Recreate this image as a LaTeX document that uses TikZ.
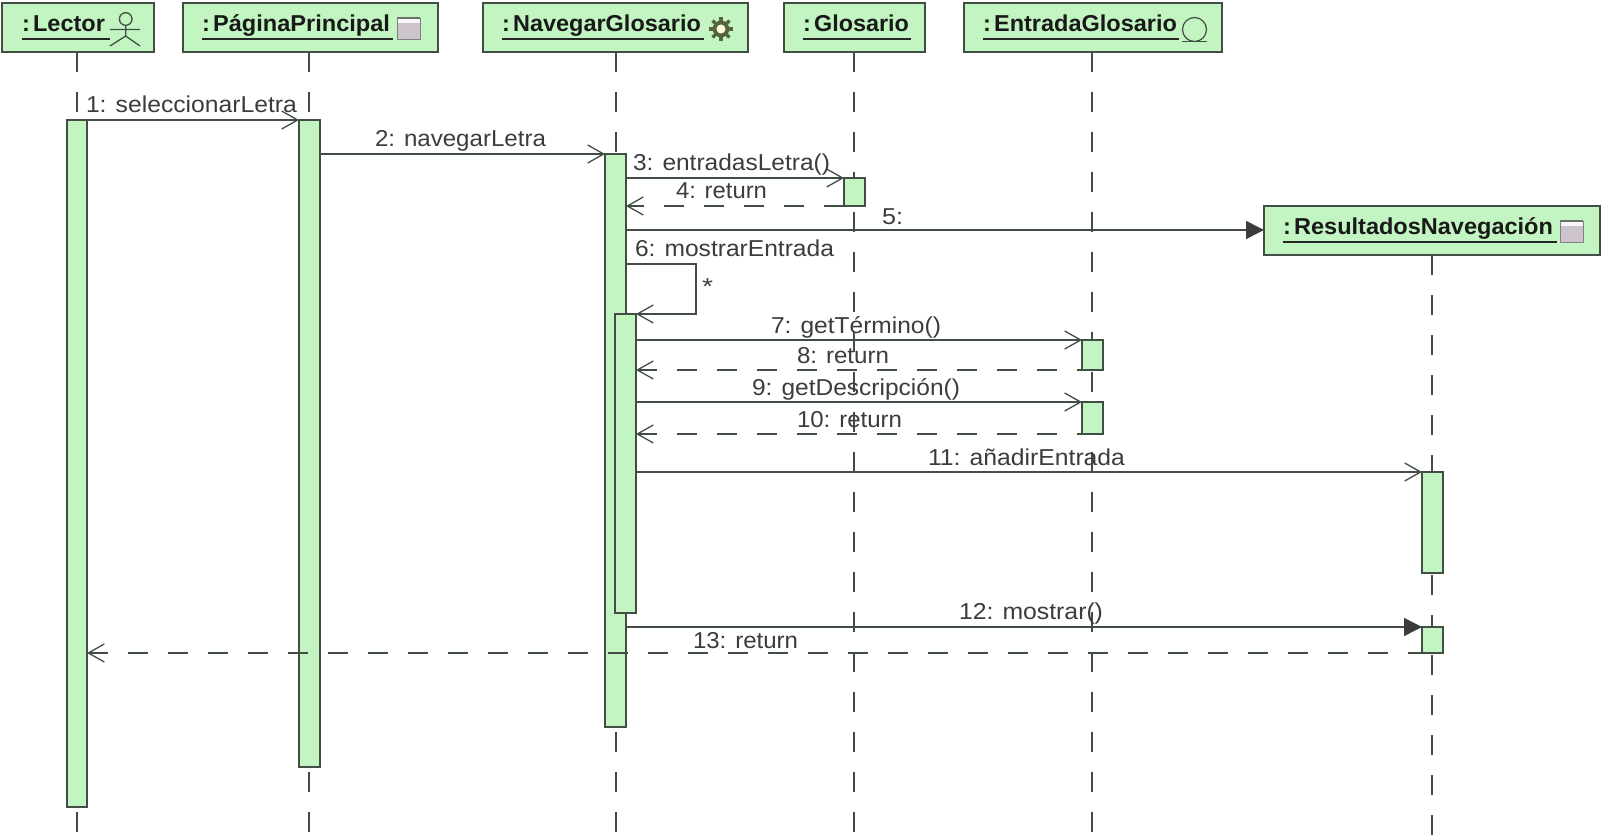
\documentclass[tikz,border=0pt]{standalone}
\usepackage{fontspec}
\usepackage{graphicx}
\setmainfont{Liberation Sans}
\usetikzlibrary{arrows.meta}
\definecolor{actfill}{RGB}{194,245,194}
\definecolor{edge}{RGB}{66,78,68}
\definecolor{ink}{RGB}{60,60,60}
\definecolor{pagegray}{RGB}{205,195,205}
\definecolor{gearc}{RGB}{85,100,60}
\newsavebox\fitbox
\newcommand\fitw[2]{\sbox\fitbox{#2}\pgfmathsetmacro\fitr{#1/\the\wd\fitbox}\scalebox{\fitr}[1]{\usebox\fitbox}}
\newcommand\cs{:\hspace{0.14em}}
\tikzset{
  x=1pt,y=-1pt,
  classbox/.style={draw=edge,fill=actfill,line width=1.4pt,inner sep=0,outer sep=0,anchor=north west},
  activ/.style={draw=edge,fill=actfill,line width=1.4pt,inner sep=0,outer sep=0,anchor=north west},
  lifeline/.style={draw=edge,line width=1.3pt,dash pattern=on 20pt off 20pt},
  msg/.style={draw=edge,line width=1.4pt,-{Straight Barb[length=16pt,width=18pt,line width=1.3pt]}},
  ret/.style={msg,dash pattern=on 20pt off 20pt},
  syncm/.style={draw=edge,line width=1.4pt,-{Triangle[length=18pt,width=18pt,fill=ink,color=ink]}},
  lbl/.style={inner sep=0,outer sep=0,text=ink,font=\fontsize{23}{23}\selectfont,anchor=base west},
  hd/.style={inner sep=0,outer sep=0,text=black!90,font=\fontsize{23}{23}\selectfont\bfseries,anchor=base west},
  ul/.style={draw=black!85,line width=1.5pt},
}
\newcommand\cbox[5]{\node[classbox,minimum width=#4pt-#2pt,minimum height=#5pt-#3pt] (#1) at (#2,#3) {};}
\newcommand\actv[5]{\node[activ,minimum width=#4pt-#2pt,minimum height=#5pt-#3pt] (#1) at (#2,#3) {};}
\newcommand\hdtext[6]{\node[hd] (#1) at (#2,#3) {\fitw{#4}{#6}}; \draw[ul] (#2,#3+7) -- (#5,#3+7);}
\newcommand\pageicon[2]{%
  \fill[pagegray] (#1,#2) rectangle (#1+23,#2+23);
  \fill[white!85!pagegray] (#1,#2) rectangle (#1+23,#2+6);
  \draw[edge!80,line width=1.2pt] (#1,#2+1) -- (#1+23,#2+1);
  \draw[gray,line width=1pt] (#1,#2+1) -- (#1,#2+23) -- (#1+23,#2+23) -- (#1+23,#2+1);
}
\begin{document}
\begin{tikzpicture}
\useasboundingbox (0,0) rectangle (1601,837);
\fill[white] (0,0) rectangle (1601,837);
% heads
\cbox{cL}{2}{3}{154}{52}
\cbox{cP}{183}{3}{438}{52}
\cbox{cN}{483}{3}{748}{52}
\cbox{cG}{784}{3}{925}{52}
\cbox{cE}{964}{3}{1222}{52}
\cbox{cR}{1264}{206}{1600}{255}
% lifeline ends
\coordinate (eL) at (77,837);
\coordinate (eP) at (309,837);
\coordinate (eN) at (616,837);
\coordinate (eG) at (854,837);
\coordinate (eE) at (1092,837);
\coordinate (eR) at (1432,837);
\draw[lifeline] (cL.south -| eL) -- (eL);
\draw[lifeline] (cP.south -| eP) -- (eP);
\draw[lifeline] (cN.south -| eN) -- (eN);
\draw[lifeline] (cG.south -| eG) -- (eG);
\draw[lifeline] (cE.south -| eE) -- (eE);
\draw[lifeline] (cR.south -| eR) -- (eR);
% activations
\actv{aL}{67}{120}{87}{807}
\actv{aP}{299}{120}{320}{767}
\actv{aN}{605}{154}{626}{727}
\actv{aI}{615}{314}{636}{613}
\actv{aG}{844}{178}{865}{206}
\actv{aE}{1082}{340}{1103}{370}
\actv{aF}{1082}{402}{1103}{434}
\actv{aR}{1422}{472}{1443}{573}
\actv{aS}{1422}{627}{1443}{653}
% head texts
\hdtext{tL}{22}{32}{83}{110}{\cs Lector}
\hdtext{tP}{202}{32}{188}{393}{\cs PáginaPrincipal}
\hdtext{tN}{502}{32}{199}{704}{\cs NavegarGlosario}
\hdtext{tG}{803}{32}{106}{911}{\cs Glosario}
\hdtext{tE}{983}{32}{194}{1179}{\cs EntradaGlosario}
\hdtext{tR}{1283}{235}{270}{1557}{\cs ResultadosNavegación}
% icons
\draw[edge,line width=1.3pt] (125.7,19) circle (6.3);
\draw[edge,line width=1.3pt] (125.7,25.5) -- (125.7,36) (110,29.5) -- (140,29.5) (110,46) -- (125.7,36) -- (140,46);
\pageicon{397}{17}
\pageicon{1560}{220}
\foreach \a in {0,45,...,315}{\draw[gearc,line width=3.5pt] (721,29)++(\a:7) -- ++(\a:5);}
\draw[gearc,line width=3.8pt,fill=white!85!yellow] (721,29) circle (6.4);
\draw[edge,line width=1.2pt] (1194.5,29.5) circle (12);
\draw[edge,line width=1.4pt] (1182,41.5) -- (1207,41.5);
% messages
\coordinate (m1) at (0,120);\coordinate (m2) at (0,154);\coordinate (m3) at (0,178);
\coordinate (m4) at (0,206);\coordinate (m5) at (0,230);\coordinate (m7) at (0,340);
\coordinate (m8) at (0,370);\coordinate (m9) at (0,402);\coordinate (m10) at (0,434);
\coordinate (m11) at (0,472);\coordinate (m12) at (0,627);\coordinate (m13) at (0,653);
\coordinate (s1) at (696,264);\coordinate (s2) at (696,314);
\draw[msg] (aL.east |- m1) -- (aP.west |- m1);
\draw[msg] (aP.east |- m2) -- (aN.west |- m2);
\draw[msg] (aN.east |- m3) -- (aG.west |- m3);
\draw[ret] (aG.west |- m4) -- (aN.east |- m4);
\draw[syncm] (aN.east |- m5) -- (cR.west |- m5);
\draw[msg] (aN.east |- s1) -- (s1) -- (s2) -- (aI.east |- s2);
\draw[msg] (aI.east |- m7) -- (aE.west |- m7);
\draw[ret,dash phase=15pt] (aE.west |- m8) -- (aI.east |- m8);
\draw[msg] (aI.east |- m9) -- (aF.west |- m9);
\draw[ret,dash phase=15pt] (aF.west |- m10) -- (aI.east |- m10);
\draw[msg] (aI.east |- m11) -- (aR.west |- m11);
\draw[syncm] (aN.east |- m12) -- (aS.west |- m12);
\draw[ret,dash phase=6pt] (aS.west |- m13) -- (aL.east |- m13);
% labels
\node[lbl] (l1) at (86,113) {\fitw{211}{1: seleccionarLetra}};
\node[lbl] (l2) at (375,147) {\fitw{171}{2: navegarLetra}};
\node[lbl] (l3) at (633,171) {\fitw{197}{3: entradasLetra()}};
\node[lbl] (l4) at (676,199) {\fitw{91}{4: return}};
\node[lbl] (l5) at (882,225) {\fitw{21}{5:}};
\node[lbl] (l6) at (635,257) {\fitw{199}{6: mostrarEntrada}};
\node[lbl] (star) at (702,294) {\fitw{11}{*}};
\node[lbl] (l7) at (771,333) {\fitw{170}{7: getTérmino()}};
\node[lbl] (l8) at (797,363) {\fitw{92}{8: return}};
\node[lbl] (l9) at (752,395) {\fitw{208}{9: getDescripción()}};
\node[lbl] (l10) at (797,427) {\fitw{105}{10: return}};
\node[lbl] (l11) at (928,465) {\fitw{197}{11: añadirEntrada}};
\node[lbl] (l12) at (959,619) {\fitw{144}{12: mostrar()}};
\node[lbl] (l13) at (693,648) {\fitw{105}{13: return}};
\end{tikzpicture}
\end{document}
